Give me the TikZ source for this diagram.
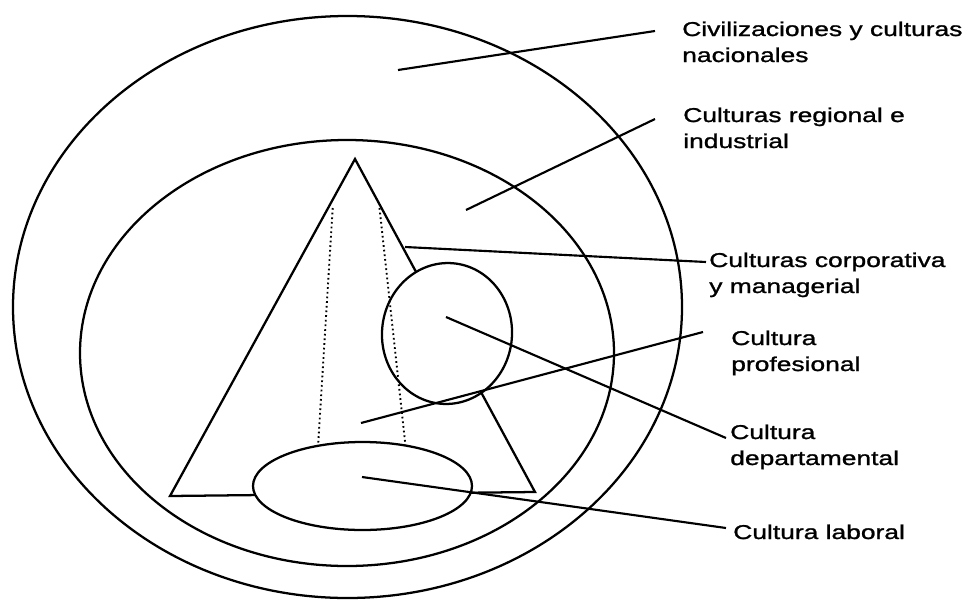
\documentclass[tikz,border=0pt]{standalone}
\usepackage{fontspec}
\setmainfont{Liberation Sans}[FakeStretch=1.32,FakeBold=1.2]
\usetikzlibrary{shapes.geometric}
\begin{document}
\begin{tikzpicture}[x=0.75pt,y=-0.75pt,
  shp/.style={draw, line width=1.7pt},
  oval/.style={draw, ellipse, line width=1.7pt, inner sep=0pt},
  leader/.style={draw, line width=1.6pt},
  cone/.style={line width=1.4pt, dash pattern=on 1.3pt off 2.2pt},
  lab/.style={anchor=base west, inner sep=0pt, font=\fontsize{15pt}{19.5pt}\selectfont}]
\useasboundingbox[fill=white] (0,0) rectangle (977,600);
% circles of culture
\node[oval, minimum width=501.75pt, minimum height=436.5pt] (outer) at (347.5,307) {};
\node[oval, minimum width=400.5pt, minimum height=319.5pt] (inner) at (347,353) {};
% cone
\coordinate (apex) at (355,159);
\coordinate (bl) at (170,496);
\coordinate (br) at (535,492);
\draw[shp, line join=miter] (bl) -- (apex) -- (br) -- cycle;
\node[oval, fill=white, rotate=-5, minimum width=97.5pt, minimum height=105.75pt] (profov) at (447,333.5) {};
\coordinate (dl1) at (332.7,208);
\coordinate (dl2) at (317.5,455);
\coordinate (dr1) at (379.5,208);
\coordinate (dr2) at (406.5,455);
\draw[cone] (dl1) -- (dl2);
\draw[cone] (dr1) -- (dr2);
\node[oval, fill=white, minimum width=164.25pt, minimum height=66pt] (labov) at (362.5,486) {};
% labels
\node[lab] (civ) at (682,36) {\vtop{\hbox{Civilizaciones y culturas}\hbox{nacionales}}};
\node[lab] (reg) at (683,122) {\vtop{\hbox{Culturas regional e}\hbox{industrial}}};
\node[lab] (corp) at (709,267) {\vtop{\hbox{Culturas corporativa}\hbox{y managerial}}};
\node[lab] (profl) at (731,345) {\vtop{\hbox{Cultura}\hbox{profesional}}};
\node[lab] (dept) at (730,439) {\vtop{\hbox{Cultura}\hbox{departamental}}};
\node[lab] (labl) at (733,539) {Cultura laboral};
% leader lines
\coordinate (s1) at (398,70);   \coordinate (e1) at (655,31);
\coordinate (s2) at (466,210);  \coordinate (e2) at (655,119);
\coordinate (s3) at (405,247);  \coordinate (e3) at (706,262);
\coordinate (s4) at (361,423);  \coordinate (e4) at (703,332);
\coordinate (s5) at (446,317);  \coordinate (e5) at (726,438);
\coordinate (s6) at (362,477);  \coordinate (e6) at (726,528);
\draw[leader] (s1) -- (e1);
\draw[leader] (s2) -- (e2);
\draw[leader] (s3) -- (e3);
\draw[leader] (s4) -- (e4);
\draw[leader] (s5) -- (e5);
\draw[leader] (s6) -- (e6);
\end{tikzpicture}
\end{document}
